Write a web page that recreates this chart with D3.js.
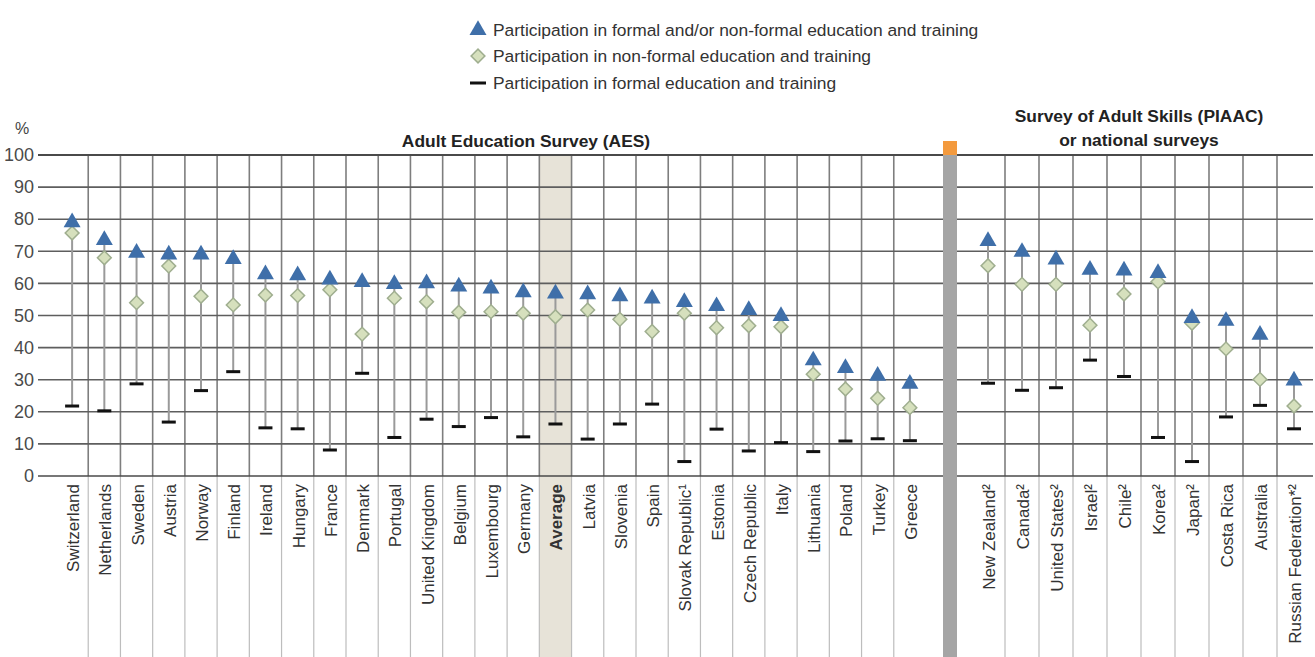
<!DOCTYPE html>
<html>
<head>
<meta charset="utf-8">
<script src="https://cdn.jsdelivr.net/npm/d3@7"></script>
<style>
  html, body { margin: 0; padding: 0; background: #fff; }
  svg { display: block; font-family: "Liberation Sans", Arial, sans-serif; }
</style>
</head>
<body>
<svg id="chart" width="1315" height="657"></svg>
<script>
// Adult Education Survey (AES) countries, sorted by total participation
const aesCountries = ["Switzerland","Netherlands","Sweden","Austria","Norway","Finland","Ireland","Hungary","France","Denmark","Portugal","United Kingdom","Belgium","Luxembourg","Germany","Average","Latvia","Slovenia","Spain","Slovak Republic¹","Estonia","Czech Republic","Italy","Lithuania","Poland","Turkey","Greece"];
const aesTotal     = [79, 73.5, 69.5, 69, 69, 67.6, 62.8, 62.5, 61.2, 60.4, 59.8, 60, 59, 58.4, 57.2, 56.8, 56.6, 56, 55.3, 54.2, 52.9, 51.7, 49.8, 36, 33.6, 31.2, 28.7];
const aesNonFormal = [75.7, 68, 54, 65.4, 56, 53.3, 56.4, 56.2, 58, 44.2, 55.4, 54.3, 51, 51.2, 50.7, 49.6, 51.7, 48.8, 45, 50.7, 46.2, 46.8, 46.5, 31.7, 27.1, 24.2, 21.3];
const aesFormal    = [21.8, 20.3, 28.7, 16.8, 26.6, 32.5, 15, 14.7, 8.1, 32, 12, 17.7, 15.4, 18.2, 12.2, 16.2, 11.5, 16.2, 22.4, 4.5, 14.6, 7.8, 10.4, 7.6, 10.9, 11.6, 11];

// Survey of Adult Skills (PIAAC) or national surveys
const piaacCountries = ["New Zealand²","Canada²","United States²","Israel²","Chile²","Korea²","Japan²","Costa Rica","Australia","Russian Federation*²"];
const piaacTotal     = [73.2, 69.8, 67.4, 64.2, 64, 63.2, 49.2, 48.3, 44, 29.7];
const piaacNonFormal = [65.5, 59.7, 59.7, 47, 56.7, 60.5, 47.6, 39.6, 30.1, 21.8];
const piaacFormal    = [28.9, 26.7, 27.5, 36.1, 31, 12, 4.5, 18.4, 22, 14.7];

const yTicks = [0, 10, 20, 30, 40, 50, 60, 70, 80, 90, 100];

const legendLabels = [
  "Participation in formal and/or non-formal education and training",
  "Participation in non-formal education and training",
  "Participation in formal education and training"
];

const W = 1315, H = 657;
const plotLeft = 42, plotRight = 1313, plotTop = 155, plotBottom = 476;
const sepX0 = 943, sepX1 = 957;

const svg = d3.select("#chart");

const y = d3.scaleLinear().domain([0, 100]).range([plotBottom, plotTop]);
const xA = d3.scaleBand().domain(aesCountries).range([56, 926]).padding(0);
const xP = d3.scaleBand().domain(piaacCountries).range([971, 1311]).padding(0);

const COL_TRI = "#3f6fa9";
const COL_DIA_FILL = "#d6e0bd";
const COL_DIA_STROKE = "#9fae8f";

// Average band
const avgX = xA("Average");
svg.append("rect")
  .attr("x", avgX).attr("y", plotTop)
  .attr("width", xA.bandwidth()).attr("height", H - plotTop)
  .attr("fill", "#e7e3d8");

// Vertical category separators (full height through label area)
const vLinesA = aesCountries.slice(1).map(c => xA(c));
const vLinesP = piaacCountries.slice(1).map(c => xP(c));
const vg = svg.append("g");
[...vLinesA, ...vLinesP].forEach(xv => {
  vg.append("line").attr("x1", xv).attr("x2", xv).attr("y1", plotTop).attr("y2", plotBottom)
    .attr("stroke", "#7e7e7e").attr("stroke-width", 1.6);
  vg.append("line").attr("x1", xv).attr("x2", xv).attr("y1", plotBottom).attr("y2", H)
    .attr("stroke", "#bdbdbd").attr("stroke-width", 1.2);
});

// Horizontal grid lines
const hg = svg.append("g");
yTicks.forEach(t => {
  hg.append("line")
    .attr("x1", plotLeft - 4).attr("x2", plotRight)
    .attr("y1", y(t)).attr("y2", y(t))
    .attr("stroke", t === 100 || t === 0 ? "#4a4a4a" : "#5e5e5e")
    .attr("stroke-width", t === 100 ? 1.9 : 1.6);
});

// Y axis labels
const yAxis = d3.axisLeft(y).tickValues(yTicks).tickSize(0).tickPadding(6);
const ya = svg.append("g").attr("transform", `translate(${plotLeft - 2},0)`).call(yAxis);
ya.select(".domain").remove();
ya.selectAll("text").attr("font-size", 18).attr("fill", "#4a4a4a")
  .attr("font-family", "'Liberation Sans', Arial, sans-serif");

svg.append("text").attr("x", 15).attr("y", 134).attr("font-size", 16).attr("fill", "#444").text("%");

// Separator between the two survey groups
svg.append("rect").attr("x", sepX0).attr("y", plotTop).attr("width", sepX1 - sepX0).attr("height", H - plotTop).attr("fill", "#a5a5a5");
svg.append("rect").attr("x", sepX0).attr("y", 141).attr("width", sepX1 - sepX0).attr("height", plotTop - 141).attr("fill", "#f39a3e");

// Group titles
svg.append("text").attr("x", 526).attr("y", 147).attr("text-anchor", "middle")
  .attr("font-size", 17.4).attr("font-weight", "bold").attr("fill", "#222")
  .text("Adult Education Survey (AES)");
svg.append("text").attr("x", 1139).attr("y", 122).attr("text-anchor", "middle")
  .attr("font-size", 17.4).attr("font-weight", "bold").attr("fill", "#222")
  .text("Survey of Adult Skills (PIAAC)");
svg.append("text").attr("x", 1139).attr("y", 146).attr("text-anchor", "middle")
  .attr("font-size", 17.4).attr("font-weight", "bold").attr("fill", "#222")
  .text("or national surveys");

// Marks
const triPath = d3.symbol().type(d3.symbolTriangle).size(125)();
const diaPath = d3.symbol().type(d3.symbolSquare).size(95)();

function drawGroup(names, xs, total, nonFormal, formal) {
  const g = svg.append("g");
  const cx = i => xs(names[i]) + xs.bandwidth() / 2;
  names.forEach((n, i) => {
    g.append("line").attr("x1", cx(i)).attr("x2", cx(i))
      .attr("y1", y(formal[i])).attr("y2", y(total[i]))
      .attr("stroke", "#9a9a9a").attr("stroke-width", 2);
  });
  names.forEach((n, i) => {
    g.append("rect").attr("x", cx(i) - 7).attr("y", y(formal[i]) - 1.5)
      .attr("width", 14).attr("height", 3).attr("fill", "#111");
  });
  names.forEach((n, i) => {
    g.append("path").attr("d", diaPath)
      .attr("transform", `translate(${cx(i)},${y(nonFormal[i])}) rotate(45)`)
      .attr("fill", COL_DIA_FILL).attr("stroke", COL_DIA_STROKE).attr("stroke-width", 1.5);
  });
  names.forEach((n, i) => {
    g.append("path").attr("d", triPath)
      .attr("transform", `translate(${cx(i)},${y(total[i])})`)
      .attr("fill", COL_TRI);
  });
  // category labels
  names.forEach((n, i) => {
    g.append("text")
      .attr("transform", `translate(${cx(i) + 1},484) rotate(-90)`)
      .attr("text-anchor", "end").attr("dy", "0.35em")
      .attr("font-size", 17).attr("fill", "#333")
      .attr("font-weight", n === "Average" ? "bold" : "normal")
      .text(n);
  });
}
drawGroup(aesCountries, xA, aesTotal, aesNonFormal, aesFormal);
drawGroup(piaacCountries, xP, piaacTotal, piaacNonFormal, piaacFormal);

// Legend
const lg = svg.append("g");
const lx = 478, ly = [30, 56, 83];
lg.append("path").attr("d", triPath).attr("transform", `translate(${lx},${ly[0]})`).attr("fill", COL_TRI);
lg.append("path").attr("d", diaPath).attr("transform", `translate(${lx},${ly[1]}) rotate(45)`)
  .attr("fill", COL_DIA_FILL).attr("stroke", COL_DIA_STROKE).attr("stroke-width", 1.5);
lg.append("rect").attr("x", lx - 8).attr("y", ly[2] - 1.5).attr("width", 16).attr("height", 3).attr("fill", "#111");
legendLabels.forEach((t, i) => {
  lg.append("text").attr("x", 493).attr("y", ly[i]).attr("dy", "0.35em")
    .attr("font-size", 17.4).attr("fill", "#333").text(t);
});
</script>
</body>
</html>
